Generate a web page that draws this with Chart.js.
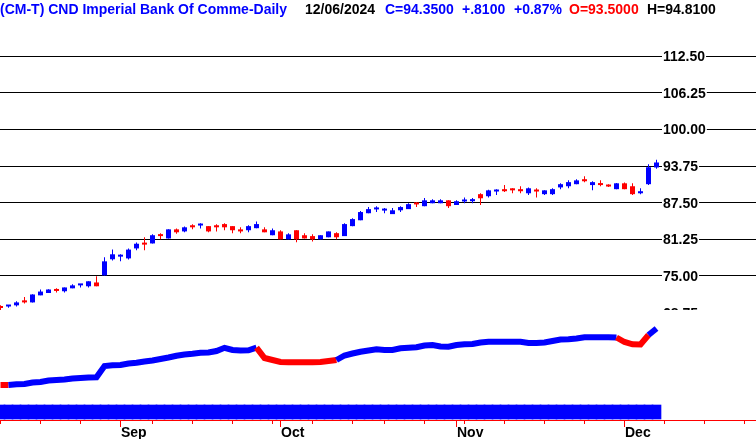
<!DOCTYPE html>
<html lang="en">
<head>
<meta charset="utf-8">
<title>CM-T Daily</title>
<script src="https://cdn.jsdelivr.net/npm/chart.js@4.4.1/dist/chart.umd.min.js"></script>
<style>
  body { margin: 0; background: #fff; overflow: hidden; }
  canvas { display: block; }
</style>
</head>
<body>
<canvas id="chart-0" width="756" height="439"></canvas>
<script>
// trading days, 2024
var DATES = ['08/12','08/13','08/14','08/15','08/16','08/19','08/20','08/21','08/22','08/23',
  '08/26','08/27','08/28','08/29','08/30','09/03','09/04','09/05','09/06','09/09',
  '09/10','09/11','09/12','09/13','09/16','09/17','09/18','09/19','09/20','09/23',
  '09/24','09/25','09/26','09/27','09/30','10/01','10/02','10/03','10/04','10/07',
  '10/08','10/09','10/10','10/11','10/15','10/16','10/17','10/18','10/21','10/22',
  '10/23','10/24','10/25','10/28','10/29','10/30','10/31','11/01','11/04','11/05',
  '11/06','11/07','11/08','11/11','11/12','11/13','11/14','11/15','11/18','11/19',
  '11/20','11/21','11/22','11/25','11/26','11/27','11/28','11/29','12/02','12/03',
  '12/04','12/05','12/06'];

var OPEN = [69.85,69.8,70.0,70.85,70.5,71.7,72.1,72.55,72.4,72.9,
  73.4,73.25,73.9,75.1,77.85,78.3,78.0,79.7,80.45,80.55,
  82.1,81.4,82.95,82.6,83.65,83.6,83.5,83.65,83.85,83.5,
  82.95,82.8,83.15,82.95,81.95,82.6,81.25,82.8,81.95,81.8,
  81.25,81.6,82.3,81.8,83.5,84.5,85.7,86.35,86.15,85.55,
  86.2,86.4,87.3,86.9,87.4,87.4,87.9,87.1,87.7,87.75,
  88.95,88.6,89.4,89.8,89.95,89.8,89.1,89.5,88.95,88.95,
  90.1,90.3,90.65,91.5,90.5,90.8,90.35,89.8,90.8,90.3,
  89.1,90.65,93.5];
var HIGH = [70.0,70.05,70.7,71.4,71.9,72.7,72.75,72.9,73.05,73.6,
  73.6,74.1,74.95,78.2,79.5,78.7,79.7,80.7,81.6,82.1,
  82.3,82.95,83.1,83.45,83.8,84.0,83.5,83.8,84.0,83.5,
  83.3,83.65,84.3,83.3,83.1,82.8,82.3,82.8,82.3,82.1,
  81.95,82.6,82.45,84.0,84.85,86.1,86.75,86.9,86.6,86.6,
  86.9,87.4,87.6,88.3,88.1,88.1,87.9,87.9,88.4,88.3,
  89.1,89.7,89.8,90.5,89.95,90.3,90.1,89.95,89.6,89.95,
  90.8,91.3,91.5,92.0,91.15,91.3,90.65,90.85,90.95,90.8,
  89.95,94.05,94.81];
var LOW = [69.2,69.6,69.8,70.3,70.5,71.7,72.1,72.2,72.2,72.9,
  73.05,73.05,73.25,75.1,77.65,77.5,77.8,79.4,79.4,80.55,
  81.25,81.4,82.2,82.45,82.95,83.1,82.45,82.6,82.8,82.3,
  82.3,82.45,83.15,82.45,81.95,81.25,81.25,80.75,81.4,80.9,
  81.25,81.6,81.25,81.8,83.5,84.5,85.7,85.9,85.7,85.55,
  85.9,86.4,86.75,86.9,87.4,87.4,86.6,87.1,87.4,87.4,
  87.1,88.4,88.8,89.3,89.1,89.1,88.8,88.4,88.8,88.8,
  89.8,89.95,90.65,91.0,89.6,90.3,90.15,89.8,89.8,88.8,
  88.95,90.5,93.3];
var CLOSE = [69.55,69.9,70.5,70.5,71.85,72.35,72.7,72.45,73.05,73.4,
  73.55,74.1,73.25,77.5,78.7,78.4,79.5,80.5,80.35,81.95,
  81.8,82.95,82.45,83.3,83.3,83.7,82.6,83.3,83.3,82.8,
  82.6,83.5,83.85,82.45,82.8,81.25,82.1,81.25,81.4,81.25,
  81.95,82.6,81.6,83.85,84.7,85.9,86.4,86.45,86.25,86.2,
  86.75,87.25,87.2,87.9,87.9,87.9,86.9,87.75,87.8,88.1,
  88.25,89.6,89.5,89.45,89.6,89.45,89.95,89.4,89.6,89.8,
  90.65,91.0,91.3,91.15,91.0,90.5,90.25,90.8,89.8,88.95,
  89.45,93.54,94.35];

// lower panel line (arbitrary units) and its up/down state
var INDICATOR = [35,35,35.7,36,37.5,38,39.5,40,40.5,41.5,
  42,42.5,42.7,54,54.7,55,56.5,57.3,58.5,59.5,
  61,62.5,64.3,65.5,66.3,67.3,67.5,69,72.2,70,
  69.5,69.7,72.3,62,60,58,57.7,57.7,57.7,57.7,
  58,59,60,64.5,66.5,68.3,69.5,70.7,70,70,
  71.7,72.3,72.7,74.5,75,73.5,73.3,75,75.7,76,
  77.5,78.3,78.3,78.3,78.3,78.3,77,77,77.5,79,
  80.5,80.7,81.5,82.7,82.7,82.7,82.7,82.5,78,75.7,
  75.5,85,91.5];
var IND_TREND = [-1,-1,1,1,1,1,1,1,1,1,
  1,1,1,1,1,1,1,1,1,1,
  1,1,1,1,1,1,1,1,1,1,
  1,1,1,-1,-1,-1,-1,-1,-1,-1,
  -1,-1,-1,1,1,1,1,1,1,1,
  1,1,1,1,1,1,1,1,1,1,
  1,1,1,1,1,1,1,1,1,1,
  1,1,1,1,1,1,1,1,-1,-1,
  -1,-1,1];
var BAND = [15,15,15,15,15,15,15,15,15,15,
  15,15,15,15,15,15,15,15,15,15,
  15,15,15,15,15,15,15,15,15,15,
  15,15,15,15,15,15,15,15,15,15,
  15,15,15,15,15,15,15,15,15,15,
  15,15,15,15,15,15,15,15,15,15,
  15,15,15,15,15,15,15,15,15,15,
  15,15,15,15,15,15,15,15,15,15,
  15,15,15];

var PRICE_TICKS = [68.75, 75, 81.25, 87.5, 93.75, 100, 106.25, 112.5];
var MINOR_TICKS = [0,5,10,19,24,29,34,39,44,48,53,58,63,68,73,83,88,93];
var MONTH_TICKS = [15,35,57,78];
var MONTH_LABELS = ['Sep','Oct','Nov','Dec'];

var BLUE = '#0000ff';
var RED = '#ff0000';
var FONT = 'bold 14px "Liberation Sans", Arial, sans-serif';
var PANEL_BOTTOM = 310;   // price panel ends here, indicator panel below

var bodies = [], wicks = [], colors = [], line = [], band = [];
for (var i = 0; i < CLOSE.length; i++) {
    bodies.push({x: i, y: [OPEN[i], CLOSE[i]]});
    wicks.push({x: i, y: [LOW[i], HIGH[i]]});
    colors.push(CLOSE[i] >= OPEN[i] ? BLUE : RED);
    line.push({x: i, y: INDICATOR[i]});
    band.push({x: i, y: BAND[i]});
}

var headerPlugin = {
    id: 'header',
    afterDraw: function(chart) {
        var ctx = chart.ctx;
        var n = CLOSE.length - 1;
        var chg = CLOSE[n] - CLOSE[n - 1];
        var sign = chg >= 0 ? '+' : '-';
        var pct = Math.abs(chg / CLOSE[n - 1] * 100).toFixed(2);
        var parts = [
            ['(CM-T) CND Imperial Bank Of Comme-Daily', BLUE, 0],
            ['12/' + DATES[n].slice(3) + '/2024', '#000', 305],
            ['C=' + CLOSE[n].toFixed(4), BLUE, 385],
            [sign + Math.abs(chg).toFixed(4).replace(/^0/, ''), BLUE, 462],
            [sign + pct + '%', BLUE, 514],
            ['O=' + OPEN[n].toFixed(4), RED, 569],
            ['H=' + HIGH[n].toFixed(4), '#000', 647]
        ];
        ctx.save();
        ctx.font = FONT;
        ctx.textBaseline = 'alphabetic';
        ctx.textAlign = 'left';
        parts.forEach(function(p) {
            ctx.fillStyle = p[1];
            ctx.fillText(p[0], p[2], 14);
        });
        ctx.restore();
    }
};

// price labels sit on the grid lines, with a white gap behind them
var priceLabels = {
    id: 'priceLabels',
    beforeDatasetsDraw: function(chart) {
        var ctx = chart.ctx;
        var ys = chart.scales.y;
        ctx.save();
        ctx.beginPath();
        ctx.rect(0, 0, chart.width, PANEL_BOTTOM);
        ctx.clip();
        ctx.font = FONT;
        ctx.textAlign = 'left';
        ctx.textBaseline = 'middle';
        PRICE_TICKS.forEach(function(v) {
            var s = v.toFixed(2);
            var y = ys.getPixelForValue(v);
            var w = ctx.measureText(s).width;
            ctx.fillStyle = '#fff';
            ctx.fillRect(662, y - 3, w + 2, 6);
            ctx.fillStyle = '#000';
            ctx.fillText(s, 663, y + 1);
        });
        ctx.restore();
    }
};

var axisPlugin = {
    id: 'dateAxis',
    afterDraw: function(chart) {
        var ctx = chart.ctx;
        var xs = chart.scales.x;
        var area = chart.chartArea;
        var yb = area.bottom;
        ctx.save();
        ctx.fillStyle = RED;
        ctx.fillRect(area.left, yb, area.right - area.left, 1);
        MINOR_TICKS.forEach(function(t) {
            ctx.fillRect(Math.floor(xs.getPixelForValue(t)), yb, 1, 4);
        });
        MONTH_TICKS.forEach(function(t) {
            ctx.fillRect(Math.floor(xs.getPixelForValue(t)), yb, 1, 7);
        });
        ctx.font = FONT;
        ctx.fillStyle = '#000';
        ctx.textAlign = 'left';
        ctx.textBaseline = 'alphabetic';
        MONTH_TICKS.forEach(function(t, k) {
            ctx.fillText(MONTH_LABELS[k], Math.floor(xs.getPixelForValue(t)) + 1, yb + 17);
        });
        ctx.restore();
    }
};

var chart = new Chart('chart-0', {
    data: {
        datasets: [{
            type: 'bar',
            data: bodies,
            backgroundColor: colors,
            barThickness: 5,
            minBarLength: 2,
            grouped: false,
            inflateAmount: 0,
            xAxisID: 'x',
            yAxisID: 'y'
        }, {
            type: 'bar',
            data: wicks,
            backgroundColor: colors,
            barThickness: 1,
            minBarLength: 1,
            grouped: false,
            inflateAmount: 0,
            xAxisID: 'x',
            yAxisID: 'y'
        }, {
            type: 'line',
            data: line,
            borderColor: BLUE,
            borderWidth: 6,
            pointRadius: 0,
            tension: 0,
            segment: {
                borderColor: function(c) { return IND_TREND[c.p1DataIndex] < 0 ? RED : BLUE; }
            },
            xAxisID: 'x',
            yAxisID: 'y2'
        }, {
            type: 'bar',
            data: band,
            base: 1,
            backgroundColor: BLUE,
            barThickness: 9,
            grouped: false,
            xAxisID: 'x',
            yAxisID: 'y2'
        }]
    },
    options: {
        responsive: false,
        animation: false,
        events: [],
        layout: { padding: { top: 22, bottom: 19, left: 0, right: 0 } },
        plugins: { legend: { display: false }, tooltip: { enabled: false } },
        scales: {
            x: {
                type: 'linear',
                display: false,
                offset: false,
                bounds: 'data',
                min: -0.0625,
                max: 94.4375
            },
            y: {
                type: 'linear',
                position: 'left',
                bounds: 'data',
                min: 50.4545,
                max: 118.2955,
                afterBuildTicks: function(s) {
                    s.ticks = PRICE_TICKS.slice(1).map(function(v) { return {value: v}; });
                },
                afterFit: function(s) { s.width = 0; },
                grid: { color: '#000', lineWidth: 1, drawTicks: false },
                border: { display: false },
                ticks: { display: false }
            },
            y2: {
                type: 'linear',
                display: false,
                bounds: 'data',
                min: 0,
                max: 398
            }
        }
    },
    plugins: [headerPlugin, priceLabels, axisPlugin]
});
</script>
</body>
</html>
